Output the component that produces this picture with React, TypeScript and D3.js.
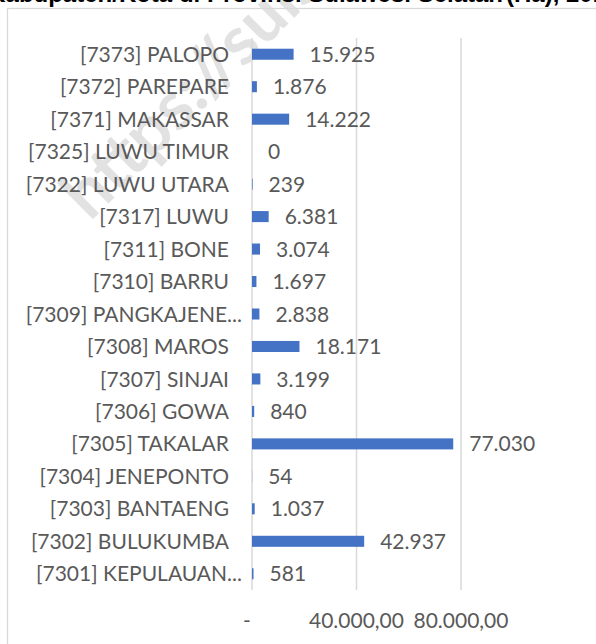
import React from "react";
import * as d3 from "d3";

// data in Excel order (first category is drawn at the bottom)
const regions = [
  "[7301] KEPULAUAN...",
  "[7302] BULUKUMBA",
  "[7303] BANTAENG",
  "[7304] JENEPONTO",
  "[7305] TAKALAR",
  "[7306] GOWA",
  "[7307] SINJAI",
  "[7308] MAROS",
  "[7309] PANGKAJENE...",
  "[7310] BARRU",
  "[7311] BONE",
  "[7317] LUWU",
  "[7322] LUWU UTARA",
  "[7325] LUWU TIMUR",
  "[7371] MAKASSAR",
  "[7372] PAREPARE",
  "[7373] PALOPO",
];
const values = [581, 42937, 1037, 54, 77030, 840, 3199, 18171, 2838, 1697, 3074, 6381, 239, 0, 14222, 1876, 15925];
const xTicks = [0, 40000, 80000];

const W = 596;
const H = 644;
const margin = { left: 252, right: 135, top: 38, bottom: 54 };

const locale = d3.formatLocale({ decimal: ",", thousands: ".", grouping: [3], currency: ["Rp", ""] });
const fmtValue = locale.format(",d");
const fmtTick = (v: number) => (v === 0 ? "-" : locale.format(",.2f")(v));

const FONT = "Lato, 'Open Sans', sans-serif";
const TITLE_FONT = "'Liberation Sans', Arial, sans-serif";
const GRAY = "#595959";
const GRID = "#d9d9d9";

export default function App() {
  const xScale = d3.scaleLinear().domain([0, 80000]).range([margin.left, W - margin.right]);
  const yScale = d3
    .scaleBand<string>()
    .domain([...regions].reverse())
    .range([margin.top, H - margin.bottom])
    .paddingInner(0.66)
    .paddingOuter(0.33);
  const step = yScale.step();

  return (
    <svg width={W} height={H} style={{ position: "absolute", left: 0, top: 0, background: "#fff" }}>
      {/* watermark */}
      <text
        transform="translate(90,222) rotate(-45)"
        fontFamily={FONT}
        fontWeight="bold"
        fontSize={68}
        fill="#e2e2e2"
      >
        https://sulsel.bps.go.id
      </text>

      {/* title, cut off at the top edge */}
      <text x={503} y={1.5} textAnchor="end" fontFamily={TITLE_FONT} fontWeight="bold" fontSize={24} fill="#000">
        Luas Panen Kedelai Menurut Kabupaten/Kota di Provinsi Sulawesi Selatan
      </text>
      <text x={506} y={1.5} fontFamily={TITLE_FONT} fontWeight="bold" fontSize={24} fill="#000">
        (Ha), 2018
      </text>

      {/* chart area border */}
      <rect x={7.5} y={8.5} width={W + 10} height={H + 10} fill="none" stroke={GRID} strokeWidth={1.3} />

      {/* gridlines */}
      {xTicks.map((t) => (
        <line key={t} x1={xScale(t)} x2={xScale(t)} y1={margin.top} y2={H - margin.bottom} stroke={GRID} strokeWidth={1.5} />
      ))}

      {/* bars */}
      {regions.map((r, i) => (
        <rect key={r} x={xScale(0)} y={yScale(r)} width={xScale(values[i]) - xScale(0)} height={yScale.bandwidth()} fill="#4472c4" />
      ))}

      {/* category labels */}
      {regions.map((r) => (
        <text
          key={r}
          x={xScale(0) - (r.endsWith("...") ? 10 : 23)}
          y={(yScale(r) ?? 0) + yScale.bandwidth() / 2}
          dy="0.36em"
          textAnchor="end"
          fontFamily={FONT}
          fontSize={21}
          fill={GRAY}
        >
          {r}
        </text>
      ))}

      {/* value labels */}
      {regions.map((r, i) => (
        <text
          key={r}
          x={xScale(values[i]) + 16}
          y={(yScale(r) ?? 0) + yScale.bandwidth() / 2}
          dy="0.36em"
          fontFamily={FONT}
          fontSize={21}
          fill={GRAY}
        >
          {fmtValue(values[i])}
        </text>
      ))}

      {/* x tick labels */}
      {xTicks.map((t) => (
        <text
          key={t}
          x={xScale(t) + (t === 0 ? -5 : 0)}
          y={H - margin.bottom + step * 0.95}
          dy="0.36em"
          textAnchor="middle"
          fontFamily={FONT}
          fontSize={21}
          fill={GRAY}
        >
          {fmtTick(t)}
        </text>
      ))}
    </svg>
  );
}
